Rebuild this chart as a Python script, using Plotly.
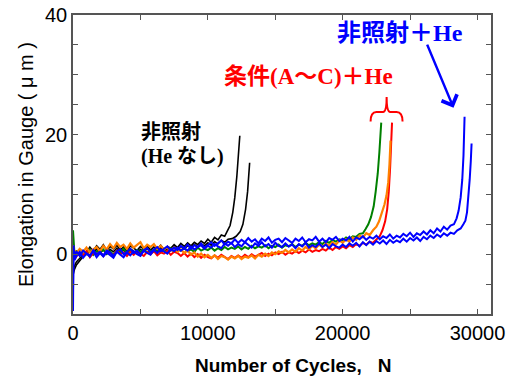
import plotly.graph_objects as go

# ---- data ----
black1_head_x = [0, 100, 250, 500, 750, 1000]
black1_head_y = [-3.5, -2.6, -1.8, -1.0, -0.4, 0.3]
black1_base_y = [1.2, 0.5, 1.4, 0.8, 1.6, 0.6, 1.3, 0.9,
                 1.5, 0.7, 1.2, 0.5, 1.4, 1.0, 0.6, 1.3,
                 0.8, 1.4, 0.7, 1.2, 0.9, 1.5, 0.8, 1.3,
                 1.0, 1.6, 1.1, 1.8, 1.3, 1.9, 1.4, 2.0,
                 1.6, 2.2, 1.8, 2.5, 2.0, 2.8, 2.4, 3.2]
black1_tail_x = [11250, 11450, 11650, 11850, 12000, 12150, 12270, 12370]
black1_tail_y = [3.0, 3.9, 4.8, 7.0, 9.5, 13.0, 16.5, 19.8]

black2_head_x = [0, 100, 250, 500, 750, 1000]
black2_head_y = [-2.8, -2.0, -1.3, -0.6, -0.1, 0.3]
black2_base_y = [0.6, 0.1, 0.9, 0.3, 0.7, 0.0, 0.8, 0.4,
                 1.0, 0.3, 0.7, 0.1, 0.9, 0.5, 0.2, 0.8,
                 0.4, 1.0, 0.3, 0.8, 0.5, 1.1, 0.6, 0.9,
                 0.7, 1.2, 0.8, 1.3, 0.9, 1.4, 1.1, 1.6,
                 1.2, 1.7, 1.4, 1.9, 1.5, 2.1, 1.7, 2.3,
                 2.0, 2.5]
black2_tail_x = [11800, 12100, 12400, 12600, 12800, 12950, 13050, 13100]
black2_tail_y = [2.6, 3.0, 3.8, 5.0, 7.5, 10.5, 13.0, 15.3]

green_head_x = [0, 40, 120]
green_head_y = [4.0, 1.5, -0.3]
green_base_y = [0.6, -0.2, 0.4, 0.0, 0.7, -0.1, 0.5, 0.2,
                0.8, 0.1, 0.5, -0.1, 0.6, 0.3, 0.9, 0.2,
                0.5, 0.1, 0.7, 0.3, 0.9, 0.2, 0.6, 0.4,
                0.9, 0.3, 0.7, 0.5, 1.0, 0.4, 0.8, 0.6,
                1.0, 0.5, 0.8, 0.4, 1.1, 0.6, 0.9, 0.7,
                1.1, 0.6, 1.0, 0.7, 1.2, 0.8, 1.1, 0.9,
                1.3, 0.8, 1.2, 0.9, 1.4, 1.0, 1.3, 1.1,
                1.5, 1.0, 1.4, 1.2, 1.6, 1.1, 1.5, 1.3,
                1.7, 1.2, 1.6, 1.4, 1.9, 1.5, 1.8, 1.6,
                2.0, 1.7, 2.2, 1.9, 2.4, 2.1, 2.5, 2.3,
                2.8, 2.5, 3.0, 2.9, 3.4, 3.5]
green_tail_x = [21700, 21900, 22100, 22300, 22450, 22600, 22720, 22800, 22860]
green_tail_y = [4.2, 5.0, 6.2, 8.0, 10.5, 13.5, 17.0, 19.8, 22.0]

red_head_x = [0, 40, 120]
red_head_y = [1.0, -0.5, 0.3]
red_base_y = [-0.4, 0.3, -0.2, 0.5, -0.5, 0.2, 0.0, 0.4,
              -0.3, 0.5, 0.1, -0.2, 0.6, 0.0, 0.3, -0.3,
              0.4, -0.1, 0.5, 0.1, -0.3, 0.4, 0.0, 0.5,
              -0.2, 0.3, 0.1, 0.6, -0.1, 0.4, 0.2, -0.3,
              0.2, -0.4, 0.1, -0.5, 0.0, -0.6, -0.1, -0.5,
              -0.7, -0.2, -0.6, -0.1, -0.5, -0.8, -0.3, -0.6,
              -0.2, -0.6, -0.1, -0.5, 0.0, -0.4, -0.1, 0.2,
              -0.3, 0.1, -0.2, 0.3, 0.0, 0.4, -0.1, 0.3,
              0.1, 0.5, 0.2, 0.6, 0.3, 0.8, 0.4, 0.7,
              0.5, 0.9, 0.6, 1.1, 0.7, 1.2, 0.9, 1.3,
              1.0, 1.5, 1.2, 1.7, 1.4, 1.9, 1.6, 2.1,
              1.9, 2.4]
red_tail_x = [22750, 22950, 23150, 23300, 23420, 23520, 23600, 23660]
red_tail_y = [3.0, 4.0, 5.5, 7.5, 10.5, 14.5, 18.5, 22.0]

orange_head_x = [0, 40, 120]
orange_head_y = [1.5, -0.3, 0.6]
orange_base_y = [0.2, 0.9, 0.4, 1.1, 0.3, 0.8, 1.2, 0.5,
                 1.4, 0.8, 1.7, 1.0, 1.9, 1.2, 1.6, 0.9,
                 1.8, 1.1, 1.5, 2.0, 1.0, 1.6, 1.2, 1.7,
                 0.9, 1.4, 0.8, 1.2, 0.6, 1.1, 0.4, 0.8,
                 0.2, 0.6, -0.1, 0.3, -0.4, 0.1, -0.5, -0.1,
                 -0.6, -0.2, -0.8, -0.3, -0.5, -0.9, -0.4, -0.7,
                 -0.3, -0.8, -0.4, -0.6, -0.2, -0.7, -0.1, -0.4,
                 0.1, -0.3, 0.3, 0.0, 0.5, 0.2, 0.7, 0.3,
                 0.8, 0.4, 1.0, 0.6, 1.2, 0.8, 1.4, 1.0,
                 1.6, 1.2, 1.8, 1.4, 2.0, 1.6, 2.3, 1.9,
                 2.5, 2.1, 2.8, 2.4, 3.1, 2.8, 3.5, 3.2,
                 4.0, 4.6]
orange_tail_x = [22700, 22900, 23100, 23250, 23380, 23470, 23550]
orange_tail_y = [5.5, 6.8, 8.3, 9.8, 12.0, 15.0, 19.0]

blue1_head_x = [0, 40, 120]
blue1_head_y = [-9.5, 1.5, -0.8]
blue1_base_y = [0.5, -0.3, 0.6, 0.1, -0.4, 0.7, 0.0, 0.4,
                -0.2, 0.6, 0.3, -0.3, 0.5, 0.8, 0.0, 0.4,
                0.9, 0.2, 0.6, -0.1, 0.7, 1.0, 0.3, 0.8,
                1.2, 0.5, 0.9, 1.3, 0.6, 1.1, 0.7, 1.4,
                1.0, 1.6, 0.9, 1.5, 1.2, 1.8, 1.1, 1.6,
                2.0, 1.4, 1.9, 2.3, 1.6, 2.1, 1.8, 2.5,
                1.9, 2.4, 2.0, 2.7, 2.1, 2.5, 1.8, 2.6,
                2.2, 2.8, 1.9, 2.4, 2.6, 2.0, 2.7, 2.3,
                1.9, 2.6, 2.2, 2.8, 2.0, 2.5, 2.3, 2.9,
                2.1, 2.6, 2.0, 2.7, 2.4, 2.9, 2.2, 2.6,
                2.3, 2.9, 2.1, 2.8, 2.5, 3.0, 2.4, 2.9,
                2.6, 3.1, 2.5, 3.0, 2.7, 3.3, 2.6, 3.1,
                2.8, 3.4, 3.0, 3.6, 2.9, 3.5, 3.2, 3.8,
                3.3, 4.0, 3.5, 4.3, 3.8, 4.6, 4.1, 4.8]
blue1_tail_x = [28250, 28450, 28600, 28750, 28870, 28960, 29040]
blue1_tail_y = [5.0, 6.0, 7.3, 9.5, 12.5, 16.5, 23.0]

blue2_head_x = [0, 40, 120]
blue2_head_y = [-6.0, 0.8, -1.0]
blue2_base_y = [-0.3, 0.4, -0.6, 0.1, -0.2, 0.5, -0.5, 0.2,
                -0.4, 0.3, -0.1, -0.6, 0.4, 0.0, -0.5, 0.3,
                -0.2, 0.5, 0.0, -0.3, 0.6, 0.2, -0.1, 0.7,
                0.2, 0.8, 0.4, 0.1, 0.9, 0.5, 1.1, 0.6,
                1.0, 0.6, 1.3, 0.8, 1.2, 1.5, 0.9, 1.4,
                1.1, 1.7, 1.3, 1.0, 1.8, 1.4, 1.9, 1.2,
                1.7, 1.3, 2.0, 1.5, 1.1, 1.8, 1.4, 2.0,
                1.3, 1.7, 1.1, 1.9, 1.4, 1.2, 1.8, 1.3,
                1.6, 1.0, 1.7, 1.3, 1.9, 1.1, 1.5, 1.2,
                1.8, 1.2, 1.6, 1.0, 1.7, 1.3, 1.1, 1.6,
                1.2, 1.8, 1.4, 1.9, 1.3, 2.0, 1.5, 2.1,
                1.6, 2.2, 1.8, 2.3, 1.7, 2.4, 1.9, 2.3,
                2.0, 2.6, 2.1, 2.7, 2.3, 2.8, 2.2, 2.9,
                2.5, 3.1, 2.7, 3.3, 2.9, 3.5, 3.1, 3.6]
blue2_tail_x = [28250, 28500, 28750, 28950, 29100, 29220, 29330, 29420, 29500, 29560]
blue2_tail_y = [3.4, 4.0, 4.3, 5.0, 5.6, 7.0, 9.5, 12.5, 15.5, 18.5]

x_ticks = [0, 10000, 20000, 30000]
y_ticks = [0, 20, 40]


def record(head_x, head_y, base_y, base_start, tail_x, tail_y):
    # flat part of each record is sampled every 250 cycles
    bx = list(range(base_start, base_start + 250 * len(base_y), 250))
    return head_x + bx + tail_x, head_y + base_y + tail_y


black1 = record(black1_head_x, black1_head_y, black1_base_y, 1250, black1_tail_x, black1_tail_y)
black2 = record(black2_head_x, black2_head_y, black2_base_y, 1250, black2_tail_x, black2_tail_y)
green = record(green_head_x, green_head_y, green_base_y, 250, green_tail_x, green_tail_y)
red = record(red_head_x, red_head_y, red_base_y, 250, red_tail_x, red_tail_y)
orange = record(orange_head_x, orange_head_y, orange_base_y, 250, orange_tail_x, orange_tail_y)
blue1 = record(blue1_head_x, blue1_head_y, blue1_base_y, 250, blue1_tail_x, blue1_tail_y)
blue2 = record(blue2_head_x, blue2_head_y, blue2_base_y, 250, blue2_tail_x, blue2_tail_y)

# ---- figure ----
fig = go.Figure()
series = [
    (black1, "black", 1.6),
    (black2, "black", 1.6),
    (green, "rgb(0,128,0)", 2.0),
    (red, "rgb(255,0,0)", 2.0),
    (orange, "rgb(255,128,0)", 2.2),
    (blue1, "rgb(0,0,255)", 2.0),
    (blue2, "rgb(0,0,255)", 2.0),
]
for (xs, ys), c, w in series:
    fig.add_trace(go.Scatter(x=xs, y=ys, mode="lines", line=dict(color=c, width=w),
                             showlegend=False, hoverinfo="skip"))

jp_font = "Liberation Serif, 'Noto Sans CJK JP', serif"

fig.add_annotation(x=4890, y=20.5, xref="x", yref="y", text="非照射", showarrow=False,
                   xanchor="left", yanchor="middle",
                   font=dict(family=jp_font, size=20, color="black", weight="bold"))
fig.add_annotation(x=4890, y=16.3, xref="x", yref="y", text="(He なし)", showarrow=False,
                   xanchor="left", yanchor="middle",
                   font=dict(family=jp_font, size=20, color="black", weight="bold"))
fig.add_annotation(x=11040, y=29.7, xref="x", yref="y", text="条件(A～C)＋He", showarrow=False,
                   xanchor="left", yanchor="middle",
                   font=dict(family=jp_font, size=23, color="rgb(255,0,0)", weight="bold"))
fig.add_annotation(x=19410, y=37.0, xref="x", yref="y", text="非照射＋He", showarrow=False,
                   xanchor="left", yanchor="middle",
                   font=dict(family=jp_font, size=24, color="rgb(0,0,255)", weight="bold"))
# arrow
fig.add_annotation(x=28220, y=24.5, ax=26220, ay=35.3, xref="x", yref="y", axref="x", ayref="y",
                   text="", showarrow=True, arrowhead=4, arrowsize=1.3, arrowwidth=2.5,
                   arrowcolor="rgb(0,0,255)")
# brace
fig.add_shape(type="path", xref="x", yref="y",
              path="M 22070,22.2 Q 22070,23.8 22500,23.8 L 23000,23.8 Q 23260,23.8 23260,26.3 "
                   "Q 23260,23.8 23520,23.8 L 24000,23.8 Q 24440,23.8 24440,22.2",
              line=dict(color="rgb(255,0,0)", width=2))
# x-axis title (placed as paper annotation, slightly right of centre as in the original)
fig.add_annotation(x=0.527, y=-0.171, xref="paper", yref="paper", text="Number of Cycles,   N",
                   showarrow=False, xanchor="center", yanchor="middle",
                   font=dict(family="Liberation Sans, Arial, sans-serif", size=19, color="black", weight="bold"))

axis_font = dict(family="Liberation Sans, Arial, sans-serif", size=20, color="black")
common = dict(showgrid=False, zeroline=False, showline=True, linecolor="#555555", linewidth=1.5,
              mirror="allticks", ticks="inside", ticklen=5, tickwidth=1.2, tickcolor="#555555",
              tickfont=axis_font, automargin=False)
fig.update_xaxes(range=[0, 31000], tickvals=x_ticks, ticktext=[str(v) for v in x_ticks],
                 minor=dict(dtick=5000, ticks="inside", ticklen=5, tickcolor="#555555", tickwidth=1.2),
                 **common)
fig.update_yaxes(range=[-10, 40], tickvals=y_ticks, ticktext=[str(v) for v in y_ticks],
                 minor=dict(dtick=5, ticks="inside", ticklen=5, tickcolor="#555555", tickwidth=1.2),
                 title=dict(text="Elongation in Gauge ( μ m )", standoff=6,
                            font=dict(family="Liberation Sans, Arial, sans-serif", size=20, color="black")),
                 **common)

fig.update_layout(width=511, height=378, margin=dict(l=73, r=20, t=15, b=64),
                  plot_bgcolor="white", paper_bgcolor="white")
fig.write_html("out.html")
